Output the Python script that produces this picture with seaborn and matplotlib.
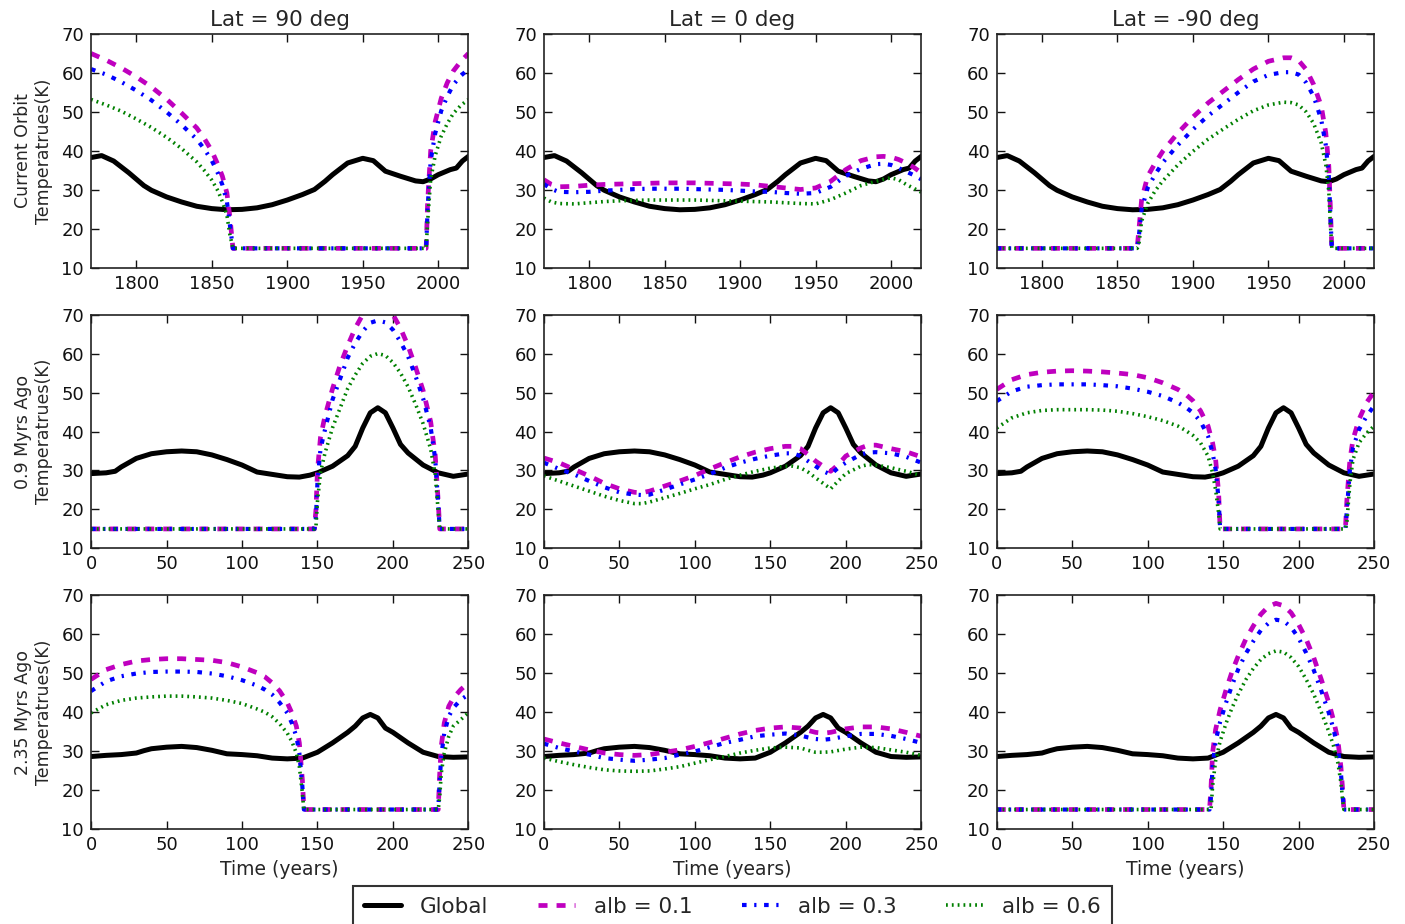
import matplotlib
matplotlib.use("Agg")
import matplotlib.pyplot as plt
import seaborn as sns

# ---- data ----
lats = ["Lat = 90 deg", "Lat = 0 deg", "Lat = -90 deg"]
row_names = ["Current Orbit", "0.9 Myrs Ago", "2.35 Myrs Ago"]
series_labels = ["Global", "alb = 0.1", "alb = 0.3", "alb = 0.6"]

# row 1: current orbit (years)
t_now = [1770, 1777, 1785, 1795, 1805, 1810, 1820, 1830, 1840, 1850, 1860, 1870, 1880, 1890, 1900, 1910,
         1918, 1925, 1930, 1940, 1950, 1957, 1965, 1975, 1985, 1990, 1995, 2000, 2008, 2012, 2016, 2020]
glob_now = [38.3, 38.8, 37.4, 34.4, 31.1, 29.9, 28.2, 26.9, 25.8, 25.2, 24.9, 25.0, 25.4, 26.2, 27.4, 28.8,
            30.1, 32.2, 33.9, 36.9, 38.1, 37.5, 34.8, 33.5, 32.3, 32.1, 32.8, 33.9, 35.2, 35.6, 37.4, 38.6]

x_now_n = [1770, 1780, 1790, 1800, 1810, 1820, 1830, 1840, 1845, 1850, 1854, 1857, 1860, 1862, 1864,
           1992, 1993, 1995, 1998, 2002, 2006, 2010, 2015, 2020]
a1_now_n = [65.0, 63.3, 61.3, 59.0, 56.4, 53.3, 49.7, 45.9, 43.2, 40.0, 36.5, 33.5, 29.2, 23.0, 15,
            15, 27.0, 40.0, 47.5, 53.5, 57.5, 60.5, 63.0, 65.0]
a3_now_n = [61.0, 59.6, 57.7, 55.5, 53.0, 50.0, 46.7, 43.0, 40.5, 37.5, 34.3, 31.3, 27.0, 21.0, 15,
            15, 25.5, 37.5, 44.5, 50.3, 54.0, 57.0, 59.3, 61.0]
a6_now_n = [53.2, 51.8, 50.2, 48.2, 46.0, 43.5, 40.6, 37.2, 35.0, 32.5, 29.8, 27.0, 23.5, 18.5, 15,
            15, 22.0, 32.7, 38.8, 43.8, 47.0, 49.6, 51.7, 53.2]

x_now_e = [1770, 1775, 1780, 1790, 1800, 1810, 1820, 1830, 1840, 1850, 1860, 1870, 1880, 1890, 1900,
           1910, 1920, 1930, 1940, 1950, 1960, 1970, 1980, 1990, 1995, 2000, 2005, 2010, 2015, 2020]
a1_now_e = [32.6, 31.4, 30.8, 30.9, 31.2, 31.4, 31.5, 31.6, 31.7, 31.8, 31.8, 31.8, 31.7, 31.6, 31.5,
            31.3, 30.9, 30.5, 30.1, 30.5, 32.2, 35.2, 37.5, 38.5, 38.6, 38.4, 37.8, 36.9, 35.8, 34.4]
a3_now_e = [31.5, 30.2, 29.5, 29.4, 29.5, 29.8, 30.0, 30.2, 30.3, 30.3, 30.3, 30.2, 30.1, 30.0, 29.8,
            29.6, 29.5, 29.2, 29.0, 29.2, 30.8, 33.6, 35.4, 36.6, 36.7, 36.4, 35.6, 34.7, 33.8, 32.7]
a6_now_e = [27.9, 26.9, 26.5, 26.4, 26.7, 27.0, 27.2, 27.3, 27.4, 27.4, 27.4, 27.4, 27.3, 27.2, 27.1,
            27.0, 26.9, 26.7, 26.5, 26.4, 27.5, 29.2, 31.1, 32.2, 32.7, 33.1, 32.6, 31.4, 30.4, 29.4]

x_now_s = [1770, 1863, 1864, 1866, 1870, 1875, 1880, 1890, 1900, 1910, 1920, 1930, 1940, 1950, 1960,
           1965, 1970, 1975, 1980, 1985, 1988, 1990, 1991, 1992, 2020]
a1_now_s = [15, 15, 19.0, 27.5, 33.5, 36.9, 39.9, 44.6, 48.7, 52.3, 55.3, 58.3, 61.0, 63.0, 63.9,
            63.9, 63.2, 60.9, 57.0, 51.5, 44.6, 36.1, 25.8, 15, 15]
a3_now_s = [15, 15, 17.5, 25.0, 30.5, 34.0, 37.0, 41.5, 45.5, 49.0, 52.0, 55.0, 57.8, 59.5, 60.2,
            60.2, 59.6, 57.5, 54.0, 48.0, 41.5, 33.5, 24.0, 15, 15]
a6_now_s = [15, 15, 15.5, 22.0, 26.5, 29.8, 32.3, 36.4, 39.9, 43.0, 45.6, 48.1, 50.3, 51.8, 52.5,
            52.4, 51.8, 50.0, 47.0, 42.0, 36.5, 29.6, 21.5, 15, 15]

# row 2: 0.9 Myrs ago
t_09 = [0, 10, 16, 20, 30, 40, 50, 60, 70, 80, 90, 100, 110, 120, 130, 138, 145, 150, 160, 170,
        175, 180, 185, 190, 195, 200, 205, 210, 220, 230, 240, 250]
glob_09 = [29.2, 29.4, 29.8, 30.9, 33.1, 34.3, 34.8, 35.0, 34.8, 34.0, 32.8, 31.4, 29.6, 29.0, 28.4, 28.3,
           28.8, 29.4, 31.1, 33.8, 36.2, 40.9, 44.8, 46.1, 44.8, 40.9, 36.7, 34.5, 31.4, 29.4, 28.5, 29.1]

x_09_n = [0, 148, 149, 150, 152, 155, 160, 165, 170, 175, 180, 185, 190, 195, 200, 205, 210, 215,
          220, 225, 228, 230, 231, 250]
a1_09_n = [15, 15, 20.0, 30.0, 38.5, 44.0, 51.0, 57.0, 62.0, 66.5, 70.0, 72.3, 73.0, 72.5, 70.0, 66.5,
           62.0, 56.5, 50.5, 42.5, 34.0, 22.0, 15, 15]
a3_09_n = [15, 15, 18.0, 27.0, 35.5, 40.5, 48.2, 53.5, 58.9, 62.7, 65.7, 67.9, 68.5, 68.0, 66.1, 63.0,
           59.3, 54.2, 48.5, 41.0, 33.0, 21.5, 15, 15]
a6_09_n = [15, 15, 15.5, 22.0, 29.5, 34.5, 41.0, 46.0, 51.0, 54.5, 57.5, 59.3, 60.0, 59.5, 57.7, 55.0,
           51.5, 47.0, 42.0, 35.5, 29.0, 19.5, 15, 15]

x_09_e = [0, 10, 20, 30, 40, 50, 60, 65, 70, 80, 90, 100, 110, 120, 130, 140, 150, 160, 165, 170,
          175, 180, 185, 190, 195, 200, 210, 215, 220, 230, 240, 250]
a1_09_e = [33.2, 32.0, 30.3, 28.6, 26.7, 25.3, 24.4, 24.3, 24.7, 26.0, 27.3, 28.7, 30.4, 32.0, 33.5, 34.7,
           35.6, 36.2, 36.2, 35.6, 34.1, 32.4, 31.1, 29.8, 31.5, 33.7, 35.8, 36.5, 36.5, 35.6, 34.8, 33.5]
a3_09_e = [32.0, 30.4, 29.0, 27.3, 25.7, 24.4, 23.8, 23.7, 23.8, 25.1, 26.4, 27.7, 29.1, 30.7, 32.0, 33.0,
           33.8, 34.4, 34.4, 33.7, 32.4, 31.1, 29.8, 29.0, 30.7, 32.0, 34.1, 34.6, 34.7, 34.4, 33.5, 32.0]
a6_09_e = [28.6, 27.3, 26.0, 24.7, 23.4, 22.3, 21.5, 21.5, 21.9, 23.0, 24.1, 25.3, 26.4, 27.7, 28.8, 29.8,
           30.6, 31.1, 31.1, 30.7, 29.6, 28.1, 26.7, 25.3, 27.3, 29.2, 31.1, 31.5, 31.4, 30.7, 29.8, 28.7]

x_09_s = [0, 10, 20, 30, 40, 50, 60, 70, 80, 90, 100, 110, 120, 125, 130, 135, 140, 143, 145, 147,
          148, 231, 232, 234, 236, 240, 245, 250]
a1_09_s = [50.8, 53.3, 54.6, 55.2, 55.5, 55.6, 55.5, 55.3, 55.0, 54.6, 53.8, 52.5, 50.8, 49.6, 47.9, 45.3,
           41.4, 37.1, 32.9, 24.3, 15, 15, 22.6, 32.8, 37.9, 43.1, 47.4, 50.2]
a3_09_s = [47.8, 50.3, 51.5, 51.9, 52.1, 52.1, 52.1, 51.9, 51.6, 51.0, 50.2, 49.1, 47.4, 46.3, 44.8, 42.6,
           38.8, 34.5, 30.3, 22.6, 15, 15, 20.0, 30.3, 35.8, 40.5, 43.9, 46.6]
a6_09_s = [40.9, 43.5, 44.8, 45.4, 45.6, 45.6, 45.6, 45.5, 45.2, 44.6, 43.8, 42.8, 41.4, 40.3, 39.0, 37.1,
           33.7, 29.4, 25.1, 19.1, 15, 15, 17.0, 26.8, 32.8, 37.1, 39.6, 41.4]

# row 3: 2.35 Myrs ago
t_235 = [0, 10, 20, 30, 35, 40, 50, 60, 70, 80, 90, 100, 110, 120, 130, 140, 150, 160, 170, 175,
         180, 185, 190, 195, 200, 210, 220, 230, 240, 250]
glob_235 = [28.6, 28.9, 29.1, 29.5, 30.1, 30.6, 31.0, 31.2, 30.9, 30.2, 29.3, 29.1, 28.8, 28.2, 28.0,
            28.2, 29.7, 32.1, 34.8, 36.4, 38.5, 39.4, 38.5, 35.9, 34.8, 32.1, 29.7, 28.6, 28.4, 28.5]

x_235_n = [0, 10, 20, 30, 40, 50, 60, 70, 80, 90, 100, 110, 115, 120, 125, 130, 133, 136, 138, 140,
           141, 230, 231, 232, 234, 237, 240, 245, 250]
a1_235_n = [48.4, 50.9, 52.2, 53.1, 53.5, 53.7, 53.7, 53.5, 53.3, 52.7, 51.6, 50.1, 49.1, 47.5, 45.4,
            42.4, 39.8, 36.4, 32.1, 22.6, 15, 15, 24.3, 31.2, 37.2, 41.5, 43.6, 45.8, 47.5]
a3_235_n = [45.4, 47.9, 49.2, 49.9, 50.3, 50.4, 50.4, 50.3, 49.9, 49.2, 48.2, 46.8, 45.8, 44.5, 42.4,
            39.8, 37.2, 33.8, 29.5, 20.9, 15, 15, 22.6, 28.6, 34.6, 38.9, 41.1, 43.2, 44.5]
a6_235_n = [39.8, 41.9, 43.0, 43.6, 43.9, 44.1, 44.1, 43.9, 43.6, 43.0, 42.2, 40.8, 40.0, 38.8, 37.0,
            34.6, 32.5, 29.5, 26.0, 19.2, 15, 15, 18.3, 24.3, 29.5, 33.8, 36.4, 38.1, 39.8]

x_235_e = [0, 10, 20, 30, 40, 50, 60, 70, 80, 90, 100, 110, 120, 130, 140, 150, 160, 170, 175, 180,
           185, 190, 200, 210, 220, 230, 240, 250]
a1_235_e = [33.1, 32.1, 31.2, 30.3, 29.5, 29.1, 28.9, 29.1, 29.7, 30.3, 31.2, 32.2, 33.3, 34.4, 35.3,
            35.9, 36.2, 35.9, 35.3, 34.8, 34.6, 34.8, 35.7, 36.2, 36.2, 35.7, 34.8, 33.8]
a3_235_e = [31.9, 30.8, 29.9, 29.1, 28.2, 27.8, 27.5, 27.8, 28.2, 29.1, 29.9, 31.0, 32.1, 32.9, 33.8,
            34.2, 34.5, 34.0, 33.5, 33.1, 32.9, 33.1, 33.8, 34.4, 34.4, 33.9, 33.1, 32.1]
a6_235_e = [28.2, 27.3, 26.5, 25.8, 25.2, 24.9, 24.8, 24.9, 25.4, 26.0, 26.9, 27.8, 28.6, 29.5, 30.2,
            30.8, 31.0, 30.8, 30.2, 29.7, 29.7, 29.8, 30.5, 31.0, 30.9, 30.3, 29.7, 28.9]

x_235_s = [0, 141, 142, 143, 145, 148, 152, 156, 160, 165, 170, 175, 180, 185, 190, 195, 200, 205,
           210, 215, 220, 223, 226, 228, 229, 230, 250]
a1_235_s = [15, 15, 20.9, 29.5, 35.5, 40.6, 45.8, 50.5, 54.4, 58.7, 62.1, 65.1, 67.1, 67.9, 67.3, 65.5,
            62.5, 58.7, 54.0, 48.4, 42.4, 38.1, 32.9, 26.0, 20.9, 15, 15]
a3_235_s = [15, 15, 18.5, 26.0, 32.5, 37.5, 42.5, 47.0, 51.0, 55.0, 58.2, 61.0, 62.8, 63.7, 63.4, 61.8,
            59.0, 55.2, 50.8, 45.5, 39.8, 35.8, 30.8, 24.5, 19.5, 15, 15]
a6_235_s = [15, 15, 15.0, 21.0, 27.5, 32.5, 37.2, 41.2, 44.6, 48.3, 51.2, 53.5, 55.0, 55.7, 55.4, 54.0,
            51.7, 48.4, 44.6, 40.0, 35.0, 31.5, 27.0, 22.0, 18.0, 15, 15]

# panel table built from the lists above
globals_by_row = [(t_now, glob_now), (t_09, glob_09), (t_235, glob_235)]
panels = [
    [(x_now_n, a1_now_n, a3_now_n, a6_now_n), (x_now_e, a1_now_e, a3_now_e, a6_now_e),
     (x_now_s, a1_now_s, a3_now_s, a6_now_s)],
    [(x_09_n, a1_09_n, a3_09_n, a6_09_n), (x_09_e, a1_09_e, a3_09_e, a6_09_e),
     (x_09_s, a1_09_s, a3_09_s, a6_09_s)],
    [(x_235_n, a1_235_n, a3_235_n, a6_235_n), (x_235_e, a1_235_e, a3_235_e, a6_235_e),
     (x_235_s, a1_235_s, a3_235_s, a6_235_s)],
]

# ---- styling ----
sns.set_style("ticks")
plt.rcParams["font.family"] = ["DejaVu Sans"]
plt.rcParams["lines.scale_dashes"] = False

alb_styles = [
    dict(color="m", lw=3.4, ls=(0, (6.5, 6.5))),
    dict(color="b", lw=3.0, ls=(0, (3.3, 5.5, 1.6, 5.5))),
    dict(color="g", lw=2.6, ls=(0, (1.3, 2.9))),
]

fig, axes = plt.subplots(3, 3, figsize=(14.05, 9.24), dpi=100)
fig.subplots_adjust(left=0.0648, right=0.978, top=0.9632, bottom=0.1028, wspace=0.2, hspace=0.2)

for r in range(3):
    tg, gv = globals_by_row[r]
    for c in range(3):
        ax = axes[r, c]
        sns.lineplot(x=tg, y=gv, ax=ax, color="black", lw=3.6, label=series_labels[0],
                     estimator=None, legend=False)
        xs = panels[r][c][0]
        for k in range(3):
            sns.lineplot(x=xs, y=panels[r][c][k + 1], ax=ax, label=series_labels[k + 1],
                         estimator=None, legend=False, **alb_styles[k])
        if r == 0:
            ax.set_xlim(1770, 2020)
            ax.set_xticks([1800, 1850, 1900, 1950, 2000])
            ax.set_title(lats[c], fontsize=15.5, pad=6)
        else:
            ax.set_xlim(0, 250)
            ax.set_xticks([0, 50, 100, 150, 200, 250])
        ax.set_ylim(10, 70)
        ax.set_yticks(range(10, 71, 10))
        ax.tick_params(direction="in", top=True, right=True, length=6, width=1,
                       labelsize=13, pad=5, colors="#111111")
        for sp in ax.spines.values():
            sp.set_linewidth(1.2)
            sp.set_color("#222222")
        ax.set_ylabel("")
        ax.set_xlabel("Time (years)" if r == 2 else "", fontsize=13.5)
        if c == 0:
            ax.set_ylabel(row_names[r] + "\nTemperatrues(K)", fontsize=12.5, labelpad=6)

handles, labels = axes[0, 0].get_legend_handles_labels()
leg = fig.legend(handles, labels, loc="upper center", ncol=4,
                 bbox_to_anchor=(732.5 / 1405, 1 - 886 / 924), fontsize=15.5,
                 frameon=True, fancybox=False, handlelength=1.7, handletextpad=0.9,
                 columnspacing=2.3, borderpad=0.5, borderaxespad=0)
leg.get_frame().set_edgecolor("black")
leg.get_frame().set_linewidth(1.5)

fig.savefig("out.png", dpi=100)
